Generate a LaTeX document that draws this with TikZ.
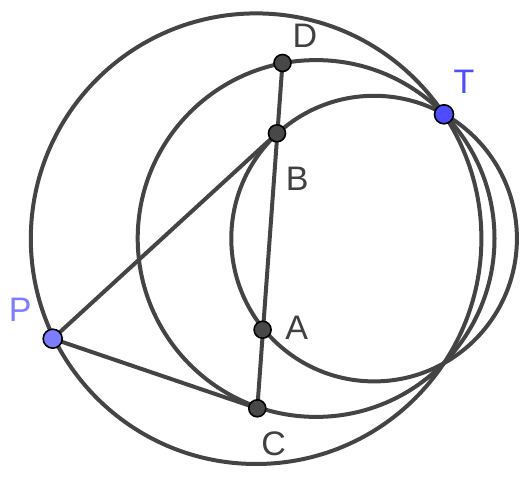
\documentclass[tikz,border=0pt]{standalone}
\usepackage{fontspec}
\setmainfont{Liberation Sans}
\definecolor{lineg}{RGB}{68,68,68}
\definecolor{ptdark}{RGB}{72,72,72}
\definecolor{tblue}{RGB}{77,77,255}
\definecolor{pblue}{RGB}{125,125,255}
\definecolor{labg}{RGB}{64,64,64}
\tikzset{
  geo/.style={draw=lineg, line width=4pt},
  darkpt/.style={circle, draw=black, line width=1.6pt, fill=ptdark, minimum size=17pt, inner sep=0pt},
  bluept/.style={circle, draw=black, line width=1.6pt, minimum size=19pt, inner sep=0pt},
  lab/.style={inner sep=0pt, font=\fontsize{34}{34}\selectfont, text=labg}
}
\begin{document}
\begin{tikzpicture}[x=1pt, y=-1pt]
\useasboundingbox (0,0) rectangle (530,484);
% centres
\coordinate (O1) at (256.1,238.7);
\coordinate (O2) at (316.1,238.5);
\coordinate (O3) at (374.1,238.6);
% points
\coordinate (T) at (444,114.3);
\coordinate (P) at (52.7,338.7);
\coordinate (D) at (282.5,63);
\coordinate (B) at (277,133.3);
\coordinate (A) at (262.6,329.7);
\coordinate (C) at (257.3,408.3);
% circles
\draw[geo] (O1) circle[radius=225.3];
\draw[geo] (O2) circle[radius=178.4];
\draw[geo] (O3) circle[radius=142.8];
% segments
\draw[geo] (D) -- (C);
\draw[geo] (P) -- (B);
\draw[geo] (P) -- (C);
% point markers
\node[darkpt] (Dm) at (D) {};
\node[darkpt] (Bm) at (B) {};
\node[darkpt] (Am) at (A) {};
\node[darkpt] (Cm) at (C) {};
\node[bluept, fill=tblue] (Tm) at (T) {};
\node[bluept, fill=pblue] (Pm) at (P) {};
% labels
\node[lab] (Dl) at (305,35.5) {D};
\node[lab, text=tblue] (Tl) at (464,82) {T};
\node[lab] (Bl) at (297.3,179.3) {B};
\node[lab, text=pblue] (Pl) at (20.2,310) {P};
\node[lab] (Al) at (296.6,328.3) {A};
\node[lab] (Cl) at (273.7,443.3) {C};
\end{tikzpicture}
\end{document}
